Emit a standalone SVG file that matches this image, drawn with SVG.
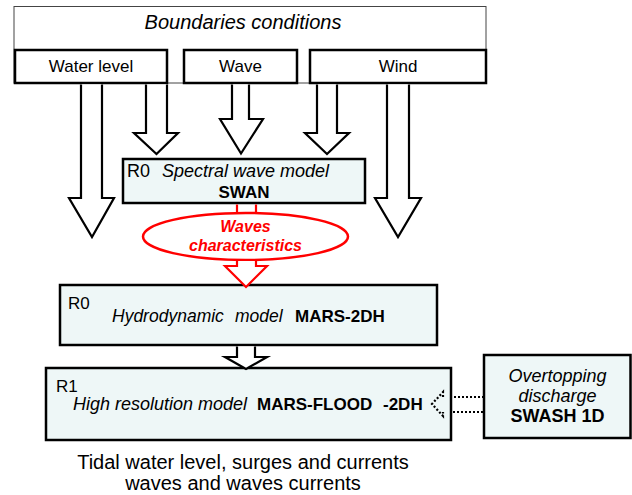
<svg xmlns="http://www.w3.org/2000/svg" width="632" height="495" viewBox="0 0 632 495">
<style>
text{font-family:"Liberation Sans",Arial,sans-serif;fill:#000}
.it{font-style:italic}
.b{font-weight:bold}
.box{fill:#eef7f7;stroke:#000;stroke-width:2.5}
.sub{fill:#fff;stroke:#000;stroke-width:2.5}
.arr{fill:#fff;stroke:#000;stroke-width:2.2;stroke-linejoin:miter}
.red{fill:#fff;stroke:#f00;stroke-width:2.2}
.dot{fill:none;stroke:#000;stroke-width:2.2;stroke-dasharray:2 2}
</style>
<rect width="632" height="495" fill="#fff"/>
<g id="boundaries">
<rect x="14" y="6.5" width="472" height="76.5" fill="#fff" stroke="#444" stroke-width="1"/>
<text x="243" y="29" font-size="20" text-anchor="middle" class="it">Boundaries conditions</text>
</g>
<g id="water-level">
<rect x="15" y="50" width="152" height="33" class="sub"/>
<text x="91" y="72" font-size="17" text-anchor="middle">Water level</text>
</g>
<g id="wave">
<rect x="184" y="50" width="113" height="33" class="sub"/>
<text x="240.5" y="72" font-size="17" text-anchor="middle">Wave</text>
</g>
<g id="wind">
<rect x="310" y="50" width="176" height="33" class="sub"/>
<text x="398" y="72" font-size="17" text-anchor="middle">Wind</text>
</g>
<g id="swan">
<rect x="123" y="159" width="242" height="44" class="box"/>
<text x="127" y="177" font-size="18">R0</text>
<text x="162" y="177" font-size="18" class="it">Spectral wave model</text>
<text x="244" y="198" font-size="17" text-anchor="middle" class="b">SWAN</text>
</g>
<g id="waves-characteristics">
<ellipse cx="245.5" cy="236.5" rx="102.5" ry="23.5" fill="#fff" stroke="#f00" stroke-width="2.5"/>
<text x="245.5" y="232" font-size="16" text-anchor="middle" class="it b" style="fill:#f00">Waves</text>
<text x="245.5" y="251" font-size="16" text-anchor="middle" class="it b" style="fill:#f00">characteristics</text>
</g>
<g id="mars-2dh">
<rect x="60" y="285" width="377" height="60" class="box"/>
<text x="68" y="309" font-size="17">R0</text>
<text y="322" font-size="17.5" class="it"><tspan x="112">Hydrodynamic</tspan><tspan x="235">model</tspan></text>
<text x="295" y="322" font-size="17" class="b">MARS-2DH</text>
</g>
<g id="mars-flood">
<rect x="46" y="368" width="405" height="72" class="box"/>
<text x="56" y="392" font-size="17">R1</text>
<text x="73" y="410" font-size="18" class="it">High resolution model</text>
<text y="410" font-size="17" class="b"><tspan x="257">MARS-FLOOD</tspan><tspan x="383">-2DH</tspan></text>
</g>
<g id="swash">
<rect x="484" y="355" width="146.5" height="83" class="box"/>
<text x="557.5" y="382" font-size="18" text-anchor="middle" class="it">Overtopping</text>
<text x="557.5" y="402" font-size="18" text-anchor="middle" class="it">discharge</text>
<text x="557.5" y="422" font-size="18" text-anchor="middle" class="b">SWASH 1D</text>
</g>
<g id="output">
<text x="243" y="469" font-size="20" text-anchor="middle">Tidal water level, surges and currents</text>
<text x="243" y="490" font-size="20" text-anchor="middle">waves and waves currents</text>
</g>
<g id="connectors">
<path class="arr" d="M81,84.5 V198 H69 L92,237 L114,198 H102 V84.5"/>
<path class="arr" d="M146,84.5 V133 H134 L156.5,154 L178,133 H167 V84.5"/>
<path class="arr" d="M232,84.5 V119 H220 L241,153.5 L263,119 H249 V84.5"/>
<path class="arr" d="M317,84.5 V133 H305 L327,154 L349,133 H337 V84.5"/>
<path class="arr" d="M387,84.5 V198 H375 L398,237 L421,198 H409 V84.5"/>
<path fill="#fff" stroke="#f00" stroke-width="2.2" d="M237,204.5 V214 M256,214 V204.5"/>
<path class="red" d="M237,261 V266 H225 L246,287 L267,266 H256 V261"/>
<path class="arr" d="M237,346.5 V357 H225 L246,369 L267,357 H255 V346.5"/>
<path class="dot" d="M484,397 H453 M443,397 V392 L432,404 L443,416 V412 M453,412 H484"/>
</g>
</svg>
